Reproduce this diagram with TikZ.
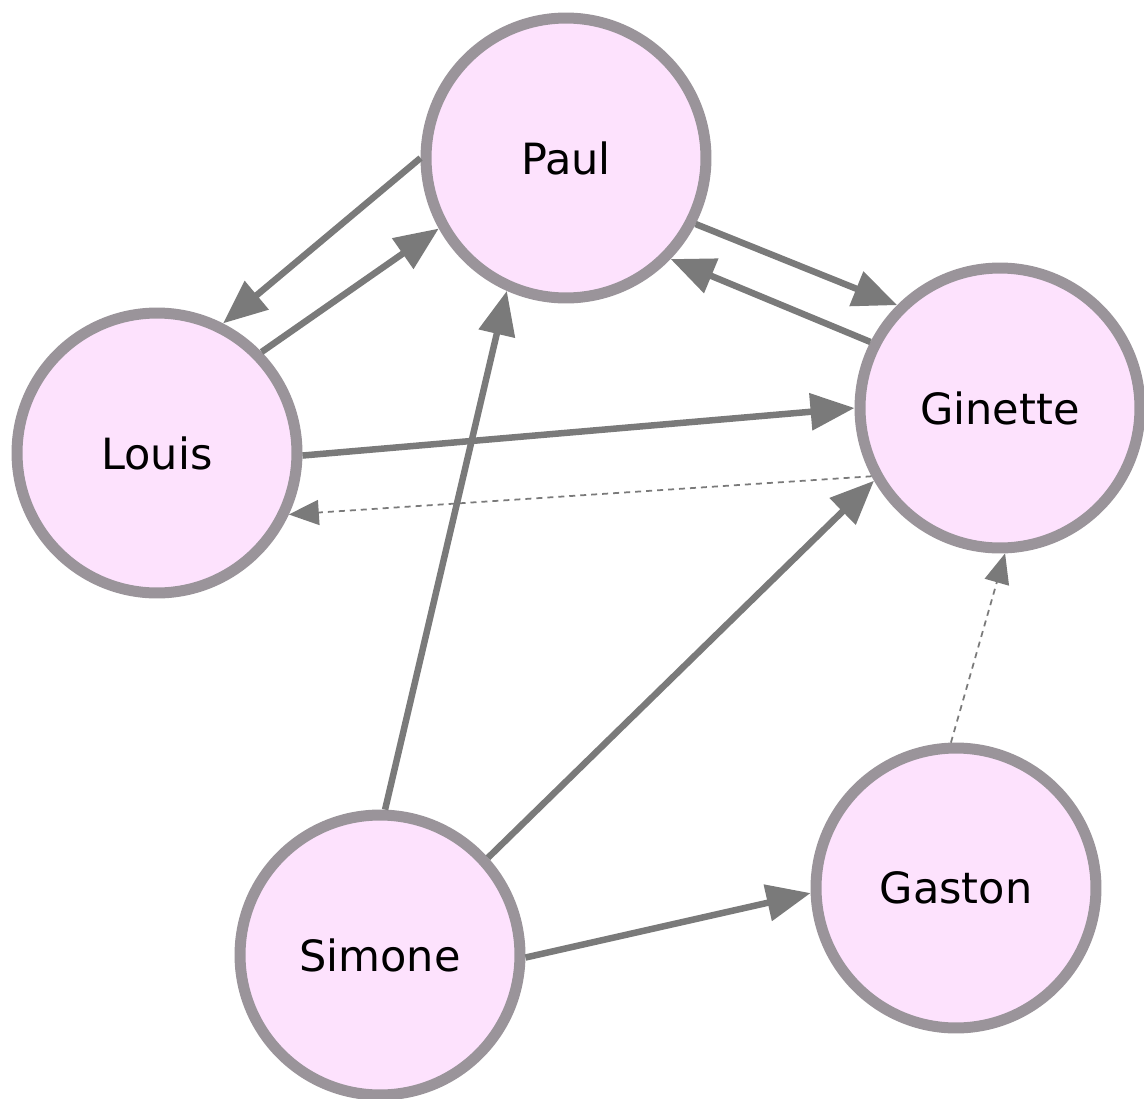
\documentclass[tikz,border=0pt]{standalone}
\usepackage{fontspec}
\setmainfont{DejaVu Sans}
\usetikzlibrary{arrows.meta}
\definecolor{nodepink}{RGB}{253,226,253}
\definecolor{rimgray}{RGB}{154,148,154}
\definecolor{edgegray}{RGB}{122,122,122}

\begin{document}
\begin{tikzpicture}[x=0.02cm,y=-0.02cm,
  person/.style={circle,draw=rimgray,fill=nodepink,line width=0.22cm,minimum size=5.6cm,
    font=\fontsize{24.5}{28}\selectfont},
  link/.style={draw=edgegray,line width=0.13cm,-{Triangle[length=0.88cm,width=0.72cm]}},
  weak/.style={draw=edgegray,line width=1pt,dash pattern=on 0.12cm off 0.1cm,
    -{Triangle[length=0.6cm,width=0.5cm]}}
  ]
  \useasboundingbox (0,0) rectangle (1144,1099);

  % people
  \node[person] (paul) at (566,158) {Paul};
  \node[person] (louis) at (157,453) {Louis};
  \node[person] (ginette) at (1000,408) {Ginette};
  \node[person] (simone) at (380,955) {Simone};
  \node[person] (gaston) at (956,888) {Gaston};

  % links
  \draw[link] (paul.180) -- (louis.63);
  \draw[link] (louis.44) -- (paul.209);
  \draw[link] (paul.-27) -- (ginette.135);
  \draw[link] (ginette.153) -- (paul.-44);
  \draw[link] (louis.-1) -- (ginette.180);
  \draw[weak] (ginette.208) -- (louis.-25);
  \draw[link] (simone.88) -- (paul.246);
  \draw[link] (simone.42) -- (ginette.210);
  \draw[weak] (gaston.92) -- (ginette.272);
  \draw[link] (simone.-1) -- (gaston.182);
\end{tikzpicture}
\end{document}
